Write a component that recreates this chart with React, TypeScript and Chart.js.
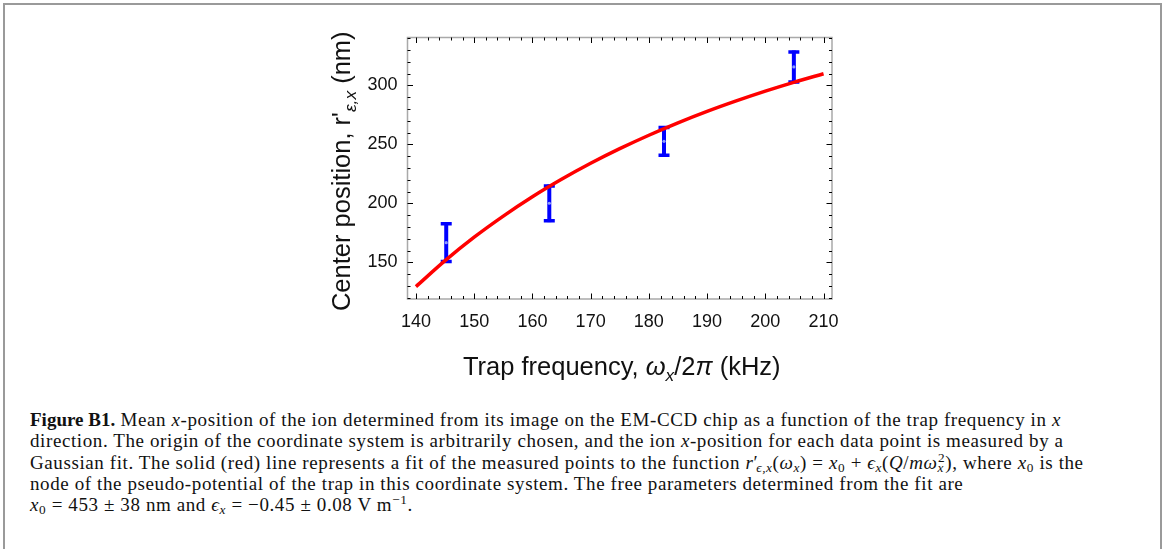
import React, { useEffect, useRef } from "react";
import { Chart, registerables } from "chart.js";

Chart.register(...registerables);

// ---- data ----
const trapFrequency = [145.2, 162.9, 182.6, 204.9];
const centerPosition = [166.7, 200.1, 252.6, 315.7];
const positionError = [17.2, 16.0, 13.0, 14.0];

const fitFrequency = [140, 145, 150, 155, 160, 165, 170, 175, 180, 185, 190, 195, 200, 205, 210];
const fitPosition = [129.4, 151.4, 171.3, 189.2, 205.6, 220.4, 234.0, 246.4, 257.8, 268.3, 278.0, 286.9, 295.2, 302.9, 310.0];

const xTickLabels = [140, 150, 160, 170, 180, 190, 200, 210];
const yTickLabels = [150, 200, 250, 300];

const X_MIN = 138.55;
const X_MAX = 211.45;
const Y_MIN = 118.9;
const Y_MAX = 340.7;

const SANS = "'Liberation Sans', Arial, sans-serif";

type Seg = { t: string; italic?: boolean; sub?: boolean };

function drawSegments(ctx: CanvasRenderingContext2D, segs: Seg[], size: number) {
  const fontOf = (s: Seg) => `${s.italic ? "italic " : ""}${s.sub ? size * 0.68 : size}px ${SANS}`;
  let total = 0;
  const widths = segs.map((s) => {
    ctx.font = fontOf(s);
    const w = ctx.measureText(s.t).width;
    total += w;
    return w;
  });
  let x = -total / 2;
  ctx.textBaseline = "alphabetic";
  ctx.textAlign = "left";
  segs.forEach((s, i) => {
    ctx.font = fontOf(s);
    ctx.fillText(s.t, x, s.sub ? size * 0.24 : 0);
    x += widths[i];
  });
}

const framePlugin = {
  id: "framePlugin",
  beforeDatasetsDraw(chart: any) {
    const { ctx } = chart;
    const xs = chart.scales.x;
    const ys = chart.scales.y;
    ctx.save();
    trapFrequency.forEach((f, i) => {
      const px = xs.getPixelForValue(f);
      const top = ys.getPixelForValue(centerPosition[i] + positionError[i]);
      const bot = ys.getPixelForValue(centerPosition[i] - positionError[i]);
      ctx.strokeStyle = "#0000ff";
      ctx.lineWidth = 4;
      ctx.beginPath();
      ctx.moveTo(px, top);
      ctx.lineTo(px, bot);
      ctx.stroke();
      ctx.lineWidth = 3.5;
      ctx.beginPath();
      ctx.moveTo(px - 5.5, top + 1.5);
      ctx.lineTo(px + 5.5, top + 1.5);
      ctx.moveTo(px - 5.5, bot - 1.5);
      ctx.lineTo(px + 5.5, bot - 1.5);
      ctx.stroke();
    });
    ctx.restore();
  },
  afterDraw(chart: any) {
    const { ctx, chartArea: a } = chart;
    const xs = chart.scales.x;
    const ys = chart.scales.y;
    ctx.save();
    // frame
    ctx.strokeStyle = "#a9a9a9";
    ctx.lineWidth = 1.5;
    ctx.strokeRect(a.left, a.top, a.right - a.left, a.bottom - a.top);
    // ticks (inward, all four sides)
    ctx.strokeStyle = "#000";
    ctx.lineWidth = 1;
    ctx.beginPath();
    for (let v = 140; v <= 210; v += 2) {
      const major = v % 10 === 0;
      const len = major ? 5.5 : 3;
      const px = Math.round(xs.getPixelForValue(v)) + 0.5;
      ctx.moveTo(px, a.bottom);
      ctx.lineTo(px, a.bottom - len);
      ctx.moveTo(px, a.top);
      ctx.lineTo(px, a.top + len);
    }
    for (let v = 120; v <= 340; v += 10) {
      const major = v % 50 === 0;
      const len = major ? 5.5 : 3;
      const py = Math.round(ys.getPixelForValue(v)) + 0.5;
      ctx.moveTo(a.left, py);
      ctx.lineTo(a.left + len, py);
      ctx.moveTo(a.right, py);
      ctx.lineTo(a.right - len, py);
    }
    ctx.stroke();

    // axis titles
    ctx.fillStyle = "#111";
    const cx = (a.left + a.right) / 2 + 2;
    ctx.save();
    ctx.translate(cx, 374.5);
    drawSegments(
      ctx,
      [
        { t: "Trap frequency, " },
        { t: "ω", italic: true },
        { t: "x", italic: true, sub: true },
        { t: "/2" },
        { t: "π", italic: true },
        { t: " (kHz)" },
      ],
      25.5
    );
    ctx.restore();

    const cy = (a.top + a.bottom) / 2 + 3;
    ctx.save();
    ctx.translate(50, cy);
    ctx.rotate(-Math.PI / 2);
    drawSegments(
      ctx,
      [
        { t: "Center position, r'" },
        { t: "ε,x", italic: true, sub: true },
        { t: " (nm)" },
      ],
      25.5
    );
    ctx.restore();
    ctx.restore();
  },
};

function FitChart() {
  const ref = useRef<HTMLCanvasElement | null>(null);
  useEffect(() => {
    if (!ref.current) return;
    const chart = new Chart(ref.current, {
      type: "scatter",
      data: {
        datasets: [
          {
            type: "line",
            data: fitFrequency.map((x, i) => ({ x, y: fitPosition[i] })),
            borderColor: "#ff0000",
            borderWidth: 3.5,
            pointRadius: 0,
            showLine: true,
            fill: false,
            cubicInterpolationMode: "monotone",
          } as any,
          {
            data: trapFrequency.map((x, i) => ({ x, y: centerPosition[i] })),
            pointRadius: 1.6,
            backgroundColor: "#8d9bff",
            borderWidth: 0,
          },
        ],
      },
      options: {
        animation: false,
        responsive: false,
        devicePixelRatio: 1,
        layout: { padding: { left: 0, right: 68, top: 37.5, bottom: 0 } },
        plugins: { legend: { display: false }, tooltip: { enabled: false } },
        scales: {
          x: {
            type: "linear",
            min: X_MIN,
            max: X_MAX,
            grid: { display: false, drawTicks: false },
            border: { display: false },
            afterBuildTicks: (s: any) => {
              s.ticks = xTickLabels.map((v) => ({ value: v }));
            },
            afterFit: (s: any) => {
              s.height = 101;
            },
            ticks: {
              font: { family: SANS, size: 18 },
              color: "#111",
              padding: 12,
              maxRotation: 0,
              autoSkip: false,
              callback: (v: any) => String(v),
            },
          },
          y: {
            type: "linear",
            min: Y_MIN,
            max: Y_MAX,
            grid: { display: false, drawTicks: false },
            border: { display: false },
            afterBuildTicks: (s: any) => {
              s.ticks = yTickLabels.map((v) => ({ value: v }));
            },
            afterFit: (s: any) => {
              s.width = 107.5;
            },
            ticks: {
              font: { family: SANS, size: 18 },
              color: "#111",
              padding: 10,
              autoSkip: false,
              callback: (v: any) => String(v),
            },
          },
        },
      } as any,
      plugins: [framePlugin],
    });
    return () => chart.destroy();
  }, []);
  return (
    <canvas
      ref={ref}
      width={600}
      height={400}
      style={{ position: "absolute", left: 300, top: 0, width: 600, height: 400 }}
    />
  );
}

const I = ({ children }: { children: React.ReactNode }) => <i>{children}</i>;
const Sub = ({ children, style }: { children: React.ReactNode; style?: React.CSSProperties }) => (
  <span style={{ fontSize: "0.7em", verticalAlign: "-0.25em", lineHeight: 0, ...style }}>{children}</span>
);
const Sup = ({ children, style }: { children: React.ReactNode; style?: React.CSSProperties }) => (
  <span style={{ fontSize: "0.7em", verticalAlign: "0.5em", lineHeight: 0, ...style }}>{children}</span>
);

function Caption() {
  const lineStyle: React.CSSProperties = { whiteSpace: "nowrap", height: 21.3, lineHeight: "21.3px" };
  return (
    <div
      style={{
        position: "absolute",
        left: 30,
        top: 409,
        fontFamily: "'Liberation Serif', 'Times New Roman', serif",
        fontSize: 19,
        letterSpacing: "0.6px",
        color: "#111",
      }}
    >
      <div style={lineStyle}>
        <b style={{ letterSpacing: "0px" }}>Figure B1.</b> Mean <I>x</I>-position of the ion determined from its image on the EM-CCD chip as a function of the trap frequency in <I>x</I>
      </div>
      <div style={lineStyle}>
        direction. The origin of the coordinate system is arbitrarily chosen, and the ion <I>x</I>-position for each data point is measured by a
      </div>
      <div style={lineStyle}>
        Gaussian fit. The solid (red) line represents a fit of the measured points to the function{" "}
        <I>r</I>′<Sub style={{ marginLeft: "-0.15em" }}><I>ϵ,x</I></Sub>(<I>ω</I><Sub><I>x</I></Sub>) = <I>x</I><Sub>0</Sub> + <I>ϵ</I><Sub><I>x</I></Sub>(<I>Q</I>/<I>mω</I>
        <Sub><I>x</I></Sub><Sup style={{ marginLeft: "-0.45em" }}>2</Sup>), where <I>x</I><Sub>0</Sub> is the
      </div>
      <div style={lineStyle}>
        node of the pseudo-potential of the trap in this coordinate system. The free parameters determined from the fit are
      </div>
      <div style={lineStyle}>
        <I>x</I><Sub>0</Sub> = 453 ± 38 nm and <I>ϵ</I><Sub><I>x</I></Sub> = −0.45 ± 0.08 V m<Sup>−1</Sup>.
      </div>
    </div>
  );
}

export default function App() {
  return (
    <div
      style={{
        position: "absolute",
        left: 0,
        top: 0,
        width: 1165,
        height: 549,
        overflow: "hidden",
        background: "#fff",
      }}
    >
      <div
        style={{
          position: "absolute",
          left: 3,
          top: 3,
          width: 1155,
          height: 600,
          border: "2px solid #9a9a9a",
        }}
      />
      <FitChart />
      <Caption />
    </div>
  );
}
